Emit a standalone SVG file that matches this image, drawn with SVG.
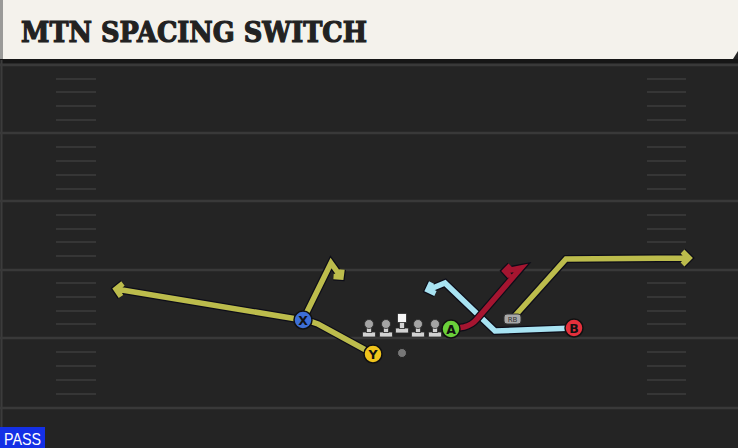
<svg xmlns="http://www.w3.org/2000/svg" width="738" height="448" viewBox="0 0 738 448">
<style>
.yard{stroke:#393939;stroke-width:2.5}
.hash{stroke:#363636;stroke-width:2}
.ol{fill:none;stroke:#0d0d18;stroke-width:8;stroke-linejoin:miter;stroke-miterlimit:4;stroke-linecap:butt}
.rt{fill:none;stroke-width:5.5;stroke-linejoin:miter;stroke-miterlimit:4;stroke-linecap:butt}
.yel{stroke:#bcbc4c}
.red{stroke:#a51530}
.blu{stroke:#a8e3f2}
.pl{stroke:#111;stroke-width:1.5}
.lbl{font-family:"DejaVu Sans","Liberation Sans",sans-serif;font-weight:bold;font-size:12.5px;fill:#111;text-anchor:middle}
.ln{fill:#d2d2d2;stroke:#2a2a2a;stroke-width:0.8}
</style>
<defs>
<g id="lineman">
<rect x="-6.5" y="8" width="13" height="5" rx="1" class="ln"/>
<rect x="-2.6" y="1" width="5.2" height="7.5" class="ln"/>
<circle cx="0" cy="0" r="4.5" fill="#a4a4a4" stroke="#2a2a2a" stroke-width="0.8"/>
</g>
</defs>
<rect width="738" height="448" fill="#242424"/>
<rect x="0" y="59" width="738" height="4" fill="#161616"/>
<line x1="1.5" y1="60" x2="1.5" y2="448" stroke="#3c3c3c" stroke-width="2"/>
<g id="field">
<line class="yard" x1="0" y1="65" x2="738" y2="65"/>
<line class="yard" x1="0" y1="133" x2="738" y2="133"/>
<line class="yard" x1="0" y1="201" x2="738" y2="201"/>
<line class="yard" x1="0" y1="270" x2="738" y2="270"/>
<line class="yard" x1="0" y1="338" x2="738" y2="338"/>
<line class="yard" x1="0" y1="408" x2="738" y2="408"/>
<path class="hash" d="M56 79H96M56 92H96M56 106H96M56 120H96M56 147H96M56 161H96M56 175H96M56 189H96M56 215H96M56 229H96M56 242H96M56 256H96M56 283H96M56 297H96M56 311H96M56 324H96M56 352H96M56 366H96M56 380H96M56 394H96"/>
<path class="hash" d="M647 79H686M647 92H686M647 106H686M647 120H686M647 147H686M647 161H686M647 175H686M647 189H686M647 215H686M647 229H686M647 242H686M647 256H686M647 283H686M647 297H686M647 311H686M647 324H686M647 352H686M647 366H686M647 380H686M647 394H686"/>
</g>
<g id="header">
<rect x="0" y="0" width="738" height="59" fill="#f4f2ec"/>
<rect x="0" y="0" width="3" height="59" fill="#9a9a98"/>
<polygon points="733,59 738,51 738,59" fill="#242424"/>
<text x="21" y="42" font-family="'DejaVu Serif','Liberation Serif',serif" font-weight="bold" font-size="28" fill="#222" stroke="#222" stroke-width="1.2" textLength="346" lengthAdjust="spacingAndGlyphs">MTN SPACING SWITCH</text>
</g>
<g id="connectors">
<path id="route-y" class="ol" d="M373,354 L318,324 Q311,321 303,320 L116,289 M123,283.5 L116,289 L121,296.5"/>
<path class="rt yel" d="M373,354 L318,324 Q311,321 303,320 L116,289 M123,283.5 L116,289 L121,296.5"/>
<path id="route-x" class="ol" d="M303,320 L331,263 L341,277 M333.5,276.5 L341,277 L342,269.5"/>
<path class="rt yel" d="M303,320 L331,263 L341,277 M333.5,276.5 L341,277 L342,269.5"/>
<path id="route-rb" class="ol" d="M513,318 L566,259 L689,258 M682.5,251.5 L689,258 L682.5,264.5"/>
<path class="rt yel" d="M513,318 L566,259 L689,258 M682.5,251.5 L689,258 L682.5,264.5"/>
<path id="route-b" class="ol" d="M574,328 L495,331 L445,283 L428,290 M431.5,282.5 L428,290 L435.5,293.5"/>
<path class="rt blu" d="M574,328 L495,331 L445,283 L428,290 M431.5,282.5 L428,290 L435.5,293.5"/>
<path id="route-a" class="ol" d="M451,329 L464,327 Q472,325 477,319 L521,268 L505,271 M510.5,265.5 L505,271 L510,276.5"/>
<path class="rt red" d="M451,329 L464,327 Q472,325 477,319 L521,268 L505,271 M510.5,265.5 L505,271 L510,276.5"/>
</g>
<g id="lt"><use href="#lineman" x="369" y="324"/></g>
<g id="lg"><use href="#lineman" x="386" y="324"/></g>
<g id="center">
<rect x="395.5" y="328" width="13" height="5" rx="1" class="ln"/>
<rect x="399.4" y="321.5" width="5.2" height="7" class="ln"/>
<rect x="397.5" y="313.5" width="9" height="9" fill="#f6f6f6" stroke="#2a2a2a" stroke-width="0.8"/>
</g>
<g id="rg"><use href="#lineman" x="418" y="324"/></g>
<g id="rt"><use href="#lineman" x="435" y="324"/></g>
<g id="qb"><circle cx="402" cy="353" r="4.5" fill="#777" stroke="#222" stroke-width="1"/></g>
<g id="rb">
<rect x="504" y="314" width="17" height="10" rx="3" fill="#a8a8a8" stroke="#333" stroke-width="1"/>
<text x="512.5" y="321.7" font-family="'DejaVu Sans','Liberation Sans',sans-serif" font-size="7" fill="#333" text-anchor="middle">RB</text>
</g>
<g id="player-x"><circle cx="303" cy="320" r="9" fill="#3d6fd6" class="pl"/><text x="303" y="324.5" class="lbl">X</text></g>
<g id="player-y"><circle cx="373" cy="354" r="9" fill="#f0c41c" class="pl"/><text x="373" y="358.5" class="lbl">Y</text></g>
<g id="player-a"><circle cx="451" cy="329" r="9" fill="#6ad03a" class="pl"/><text x="451" y="333.5" class="lbl">A</text></g>
<g id="player-b"><circle cx="574" cy="328" r="9" fill="#e5303c" class="pl"/><text x="574" y="332.5" class="lbl">B</text></g>
<g id="pass-tag">
<rect x="0" y="427" width="45" height="21" fill="#1430e6"/>
<text x="22.5" y="445" font-family="'Liberation Sans','DejaVu Sans',sans-serif" font-size="16.5" fill="#fff" text-anchor="middle" textLength="37" lengthAdjust="spacingAndGlyphs">PASS</text>
</g>
</svg>
